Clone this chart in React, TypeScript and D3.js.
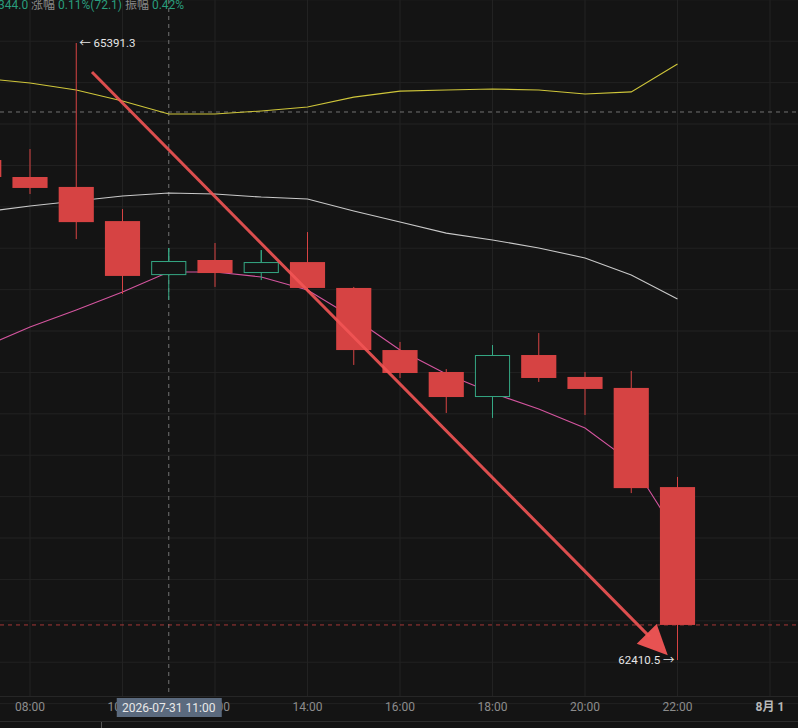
import React from "react";
import * as d3 from "d3";

const W = 798;
const H = 728;

// hourly candles, 2026-07-31 07:00 .. 22:00
const hours = [7, 8, 9, 10, 11, 12, 13, 14, 15, 16, 17, 18, 19, 20, 21, 22];
const opens = [64826, 64744, 64696, 64531, 64270, 64343, 64280, 64333, 64208, 63908, 63802, 63681, 63884, 63778, 63725, 63246];
const highs = [64840, 64879, 65391.3, 64589, 64401, 64425, 64391, 64478, 64213, 63947, 63816, 63932, 63990, 63802, 63807, 63295];
const lows = [64730, 64662, 64444, 64179, 64150, 64213, 64246, 64188, 63836, 63773, 63604, 63580, 63754, 63594, 63217, 62410.5];
const closes = [64744, 64691, 64526, 64266, 64338, 64280, 64333, 64208, 63908, 63797, 63681, 63884, 63773, 63720, 63241, 62580];

// indicator lines (upper / middle / lower)
const upperLine = [65220, 65198, 65164, 65111, 65048, 65048, 65063, 65082, 65130, 65159, 65164, 65169, 65164, 65145, 65155, 65290];
const middleLine = [64575, 64604, 64628, 64652, 64667, 64662, 64647, 64638, 64580, 64527, 64473, 64440, 64401, 64353, 64271, 64155];
const lowerLine = [63923, 64019, 64101, 64188, 64285, 64285, 64261, 64198, 64063, 63908, 63792, 63700, 63623, 63531, 63367, 63014];

const tickHours = [8, 10, 12, 14, 16, 18, 20, 22, 24];
const crossHour = 11;
const crossPrice = 65058;
const lastPrice = 62580;
const highLabel = "65391.3";
const lowLabel = "62410.5";
const crossLabel = "2026-07-31 11:00";
const arrowStart = { h: 9.34, p: 65251 };
const arrowEnd = { h: 21.79, p: 62434 };

const headerParts = [
  { t: "344.0", c: "#2a9d7c" },
  { t: " 涨幅 ", c: "#8a8a8a" },
  { t: "0.11%(72.1)", c: "#2a9d7c" },
  { t: "  振幅 ", c: "#8a8a8a" },
  { t: "0.42%", c: "#2a9d7c" },
];

const toDate = (h: number) => new Date(2026, 6, 31, 0, 0, 0, 0).getTime() + h * 3600000;

export default function App() {
  const x = d3.scaleTime().domain([new Date(toDate(8)), new Date(toDate(24))]).range([30, 770]);
  const y = d3.scaleLinear().domain([62200, 65600]).range([703.6, -0.2]);
  const xh = (h: number) => x(new Date(toDate(h)));
  const step = xh(9) - xh(8);
  const bodyW = step * 0.76;
  const plotBottom = 696;

  const red = "#d64343";
  const green = "#35a884";

  const priceTicks = d3.range(62200, 65601, 200);
  const fmt = d3.timeFormat("%H:%M");

  const mkLine = (vals: number[]) =>
    d3.line<number>().x((_, i) => xh(hours[i])).y((v) => y(v))(vals) || "";

  const ax = xh(arrowStart.h), ay = y(arrowStart.p);
  const bx = xh(arrowEnd.h), by = y(arrowEnd.p);
  const ang = Math.atan2(by - ay, bx - ax);
  const headL = 30, headW = 14;
  const baseX = bx - headL * Math.cos(ang), baseY = by - headL * Math.sin(ang);
  const px = -Math.sin(ang), py = Math.cos(ang);
  const head = `${bx},${by} ${baseX + px * headW},${baseY + py * headW} ${baseX - px * headW},${baseY - py * headW}`;

  const font = "Roboto, 'Noto Sans CJK SC', sans-serif";

  return (
    <svg width={W} height={H} style={{ position: "absolute", left: 0, top: 0, background: "#141414" }} fontFamily={font}>
      <rect x={0} y={0} width={W} height={H} fill="#141414" />
      {/* grid */}
      {priceTicks.map((p) => (
        <line key={"h" + p} x1={0} x2={W} y1={y(p)} y2={y(p)} stroke="#222" strokeWidth={1} />
      ))}
      {tickHours.map((h) => (
        <line key={"v" + h} x1={xh(h)} x2={xh(h)} y1={0} y2={plotBottom} stroke="#222" strokeWidth={1} />
      ))}
      <line x1={0} x2={W} y1={plotBottom + 0.5} y2={plotBottom + 0.5} stroke="#262626" />
      <line x1={0} x2={W} y1={721.5} y2={721.5} stroke="#2c2c2c" />
      <line x1={101.5} x2={101.5} y1={722} y2={H} stroke="#555" />

      {/* crosshair + price line */}
      <line x1={0} x2={W} y1={y(crossPrice)} y2={y(crossPrice)} stroke="#8a8a8a" strokeDasharray="4,4" strokeWidth={1} opacity={0.8} />
      <line x1={xh(crossHour)} x2={xh(crossHour)} y1={0} y2={plotBottom} stroke="#8a8a8a" strokeDasharray="4,4" strokeWidth={1} opacity={0.8} />
      <line x1={0} x2={W} y1={y(lastPrice)} y2={y(lastPrice)} stroke={red} strokeDasharray="4,4" strokeWidth={1} opacity={0.75} />

      {/* indicator lines */}
      <path d={mkLine(upperLine)} fill="none" stroke="#cfc63a" strokeWidth={1.1} />
      <path d={mkLine(middleLine)} fill="none" stroke="#c9c9c9" strokeWidth={1.1} />
      <path d={mkLine(lowerLine)} fill="none" stroke="#d4559f" strokeWidth={1.1} />

      {/* candles */}
      {hours.map((h, i) => {
        const up = closes[i] >= opens[i];
        const c = up ? green : red;
        const cx = xh(h);
        const top = y(Math.max(opens[i], closes[i]));
        const bot = y(Math.min(opens[i], closes[i]));
        return (
          <g key={"c" + h}>
            <line x1={cx} x2={cx} y1={y(highs[i])} y2={up ? top : y(highs[i])} stroke={c} strokeWidth={1} />
            {up ? (
              <>
                <line x1={cx} x2={cx} y1={y(highs[i])} y2={top} stroke={c} />
                <line x1={cx} x2={cx} y1={bot} y2={y(lows[i])} stroke={c} />
                <rect x={cx - bodyW / 2 + 0.5} y={top + 0.5} width={bodyW - 1} height={Math.max(1, bot - top - 1)} fill="#141414" stroke={c} strokeWidth={1} />
              </>
            ) : (
              <>
                <line x1={cx} x2={cx} y1={y(highs[i])} y2={y(lows[i])} stroke={c} />
                <rect x={cx - bodyW / 2} y={top} width={bodyW} height={Math.max(1, bot - top)} fill={c} />
              </>
            )}
          </g>
        );
      })}

      {/* arrow annotation */}
      <line x1={ax} y1={ay} x2={baseX + 4 * Math.cos(ang)} y2={baseY + 4 * Math.sin(ang)} stroke="#f25555" strokeWidth={3} opacity={0.9} />
      <polygon points={head} fill="#f25555" opacity={0.95} />

      {/* high / low labels */}
      <text x={xh(9) + 3} y={y(highs[2]) + 4} fill="#e6e6e6" fontSize={11.5}>
        {"← " + highLabel}
      </text>
      <text x={xh(22) - 3} y={y(lows[15]) + 4} fill="#e6e6e6" fontSize={11.5} textAnchor="end">
        {lowLabel + " →"}
      </text>

      {/* header */}
      <text x={-2} y={9} fontSize={12}>
        {headerParts.map((p, i) => (
          <tspan key={i} fill={p.c}>{p.t}</tspan>
        ))}
      </text>

      {/* time axis */}
      {tickHours.map((h) => {
        const isDay = h === 24;
        return (
          <text key={"t" + h} x={xh(h)} y={711} textAnchor="middle" fontSize={12}
            fill={isDay ? "#b8b8b8" : "#8c8c8c"} fontWeight={isDay ? 700 : 400}>
            {isDay ? "8月 1" : fmt(new Date(toDate(h)))}
          </text>
        );
      })}
      <rect x={xh(crossHour) - 52} y={698} width={105} height={19} fill="#5b6a7e" />
      <text x={xh(crossHour)} y={711.5} textAnchor="middle" fontSize={12} fill="#e8e8e8">{crossLabel}</text>
    </svg>
  );
}
